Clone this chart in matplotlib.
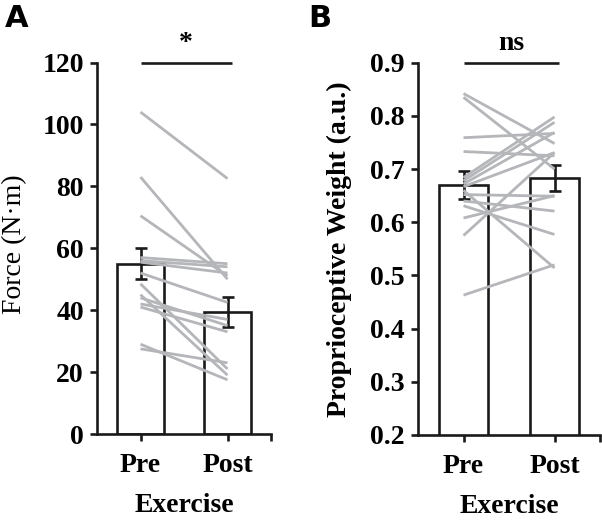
import matplotlib
matplotlib.use('Agg')
from matplotlib import pyplot as plt

plt.rcParams['font.family'] = ['Liberation Serif', 'DejaVu Serif']
plt.rcParams['font.weight'] = 'bold'

# x categories
conditions = ['Pre', 'Post']

# panel A : force, per subject
force_pre  = [104, 83, 70.5, 57, 56, 55.5, 52, 48.5, 45, 44, 42, 41, 29, 27.5]
force_post = [82.5, 50, 51, 55, 54, 52, 42.5, 21, 19, 35, 37, 33, 17.5, 23]
force_mean = [55.0, 39.4]
force_sem  = [5.0, 4.7]

# panel B : proprioceptive weight, per subject
pw_pre  = [0.842, 0.835, 0.759, 0.733, 0.684, 0.678, 0.672, 0.667, 0.660,
           0.652, 0.640, 0.631, 0.608, 0.575, 0.463]
pw_post = [0.748, 0.700, 0.767, 0.725, 0.798, 0.788, 0.769, 0.731, 0.514,
           0.649, 0.621, 0.577, 0.650, 0.731, 0.520]
pw_mean = [0.670, 0.683]
pw_sem  = [0.027, 0.025]

force_ticks = [0, 20, 40, 60, 80, 100, 120]
pw_ticks    = [0.2, 0.3, 0.4, 0.5, 0.6, 0.7, 0.8, 0.9]

LW = 1.9
GREY = '#b4b6b9'
FS = 20


def panel(ax, pre, post, mean, sem, ticks, ylabel, ylabel_weight, sig, fmt):
	xs = [1, 2]
	ax.bar(xs, mean, width=0.53, color='white', edgecolor='#1a1a1a',
		   linewidth=LW, zorder=1)
	ax.errorbar(xs, mean, yerr=sem, fmt='none', ecolor='#1a1a1a',
				elinewidth=LW, capsize=4, capthick=LW, zorder=2)
	for a, b in zip(pre, post):
		ax.plot(xs, [a, b], color=GREY, linewidth=2.0, zorder=3,
				solid_capstyle='butt')

	ax.set_xlim(0.5, 2.5)
	ax.set_ylim(ticks[0], ticks[-1])
	ax.set_yticks(ticks)
	ax.set_yticklabels([fmt % t for t in ticks], fontsize=FS, fontweight='bold')
	ax.set_xticks([1, 2, 2.5])
	ax.set_xticklabels(conditions + [''], fontsize=FS, fontweight='bold')
	ax.tick_params(axis='both', direction='out', length=5, width=LW,
				   color='#1a1a1a')
	ax.tick_params(axis='x', pad=8.5)
	ax.tick_params(axis='y', pad=4.5)

	for s in ['top', 'right']:
		ax.spines[s].set_visible(False)
	for s in ['left', 'bottom']:
		ax.spines[s].set_linewidth(LW)
		ax.spines[s].set_color('#1a1a1a')

	ax.set_xlabel('Exercise', fontsize=FS, fontweight='bold', labelpad=11)
	ax.set_ylabel(ylabel, fontsize=FS, fontweight=ylabel_weight)

	# significance bar
	ax.plot([1, 2.05], [ticks[-1], ticks[-1]], color='#1a1a1a', linewidth=LW,
			clip_on=False, solid_capstyle='butt')
	ax.annotate(sig, xy=(1.52, ticks[-1]), xytext=(0, 5),
				textcoords='offset points', ha='center', va='bottom',
				fontsize=FS, fontweight='bold')


fig = plt.figure(figsize=(6.02, 5.23), dpi=100)
axA = fig.add_axes([97/602, 89/523, 174/602, 371.5/523])
axB = fig.add_axes([418/602, 88/523, 182/602, 372.3/523])

panel(axA, force_pre, force_post, force_mean, force_sem, force_ticks,
	  'Force (N·m)', 'normal', '*', '%d')
panel(axB, pw_pre, pw_post, pw_mean, pw_sem, pw_ticks,
	  'Proprioceptive Weight (a.u.)', 'bold', 'ns', '%.1f')

axA.yaxis.set_label_coords(-0.40, 0.51)
axB.yaxis.set_label_coords(-0.365, 0.5)

fig.text(5/602, 1 - 4/523, 'A', fontsize=22, fontweight='bold',
		 family='DejaVu Sans', va='top', ha='left')
fig.text(308/602, 1 - 4/523, 'B', fontsize=22, fontweight='bold',
		 family='DejaVu Sans', va='top', ha='left')

fig.savefig('out.png', dpi=100)
